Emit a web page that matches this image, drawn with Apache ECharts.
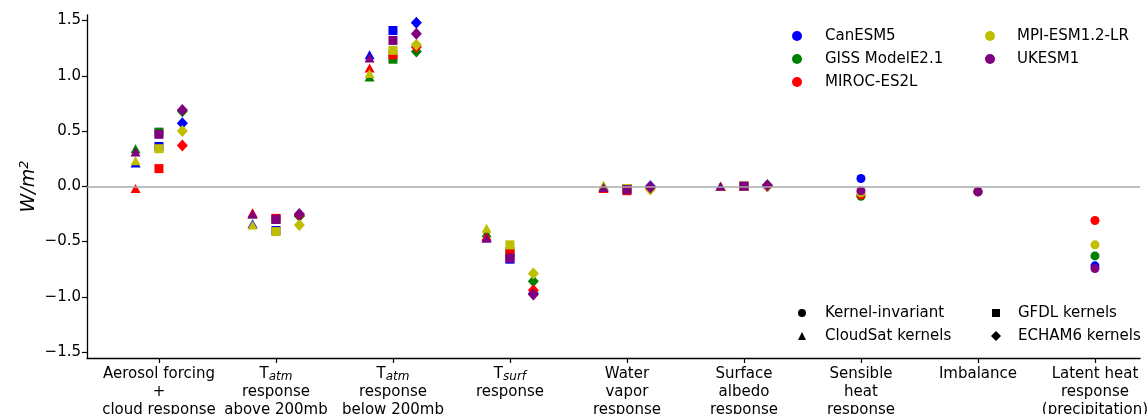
<!DOCTYPE html>
<html>
<head>
<meta charset="utf-8">
<script src="https://cdn.jsdelivr.net/npm/echarts@6/dist/echarts.min.js"></script>
<style>
  html, body { margin: 0; padding: 0; background: #fff; }
  #chart { width: 1148px; height: 414px; }
</style>
</head>
<body>
<div id="chart"></div>
<script>
// category labels ({t|..} normal text, {s|..} italic subscript)
const categories = [
    '{t|Aerosol forcing}\n{t|+}\n{t|cloud response}',
    '{t|T}{s|atm}\n{t|response}\n{t|above 200mb}',
    '{t|T}{s|atm}\n{t|response}\n{t|below 200mb}',
    '{t|T}{s|surf}\n{t|response}',
    '{t|Water}\n{t|vapor}\n{t|response}',
    '{t|Surface}\n{t|albedo}\n{t|response}',
    '{t|Sensible}\n{t|heat}\n{t|response}',
    '{t|Imbalance}',
    '{t|Latent heat}\n{t|response}\n{t|(precipitation)}'
]
const yTicks = [-1.5, -1.0, -0.5, 0.0, 0.5, 1.0, 1.5]

const models = ['CanESM5', 'GISS ModelE2.1', 'MIROC-ES2L', 'MPI-ESM1.2-LR', 'UKESM1']
const modelColors = ['#0000ff', '#008000', '#ff0000', '#bfbf00', '#800080']

// kernel dependent terms, rows = models, cols = first 6 categories
const cloudSat = [
    [0.21, -0.34, 1.19, -0.46, 0.00, 0.00],
    [0.34, -0.25, 0.99, -0.42, 0.00, 0.00],
    [-0.02, -0.24, 1.07, -0.45, -0.02, 0.00],
    [0.23, -0.35, 1.02, -0.38, 0.01, 0.00],
    [0.31, -0.25, 1.16, -0.47, -0.01, 0.00]
]
const gfdl = [
    [0.36, -0.40, 1.41, -0.66, -0.02, 0.00],
    [0.49, -0.30, 1.15, -0.59, -0.02, 0.00],
    [0.16, -0.29, 1.19, -0.61, -0.04, 0.00],
    [0.34, -0.41, 1.23, -0.53, -0.02, 0.00],
    [0.47, -0.30, 1.32, -0.65, -0.03, 0.00]
]
const echam6 = [
    [0.57, -0.27, 1.48, -0.97, 0.00, 0.00],
    [0.68, -0.27, 1.22, -0.86, -0.01, 0.01],
    [0.37, -0.26, 1.26, -0.94, -0.01, 0.00],
    [0.50, -0.35, 1.28, -0.79, -0.03, 0.00],
    [0.69, -0.25, 1.38, -0.98, -0.01, 0.01]
]
// kernel invariant terms (sensible heat, imbalance, latent heat)
const invariant = [
    [0.07, -0.05, -0.72],
    [-0.09, -0.05, -0.63],
    [-0.08, -0.05, -0.31],
    [-0.06, -0.05, -0.53],
    [-0.04, -0.05, -0.745]
]
const invariantStart = 6

const FONT = 'DejaVu Sans'
const chart = echarts.init(document.getElementById('chart'))

const kernelSeries = (name, symbol, size, offset, values) => {
    const data = []
    values.forEach((row, m) => {
        row.forEach((v, c) => {
            data.push({ value: [c + offset, v], itemStyle: { color: modelColors[m] } })
        })
    })
    return {
        name: name,
        type: 'scatter',
        symbol: symbol,
        symbolSize: size,
        itemStyle: { color: '#000', opacity: 1 },
        z: 3,
        data: data
    }
}

const series = [{
    name: 'Kernel-invariant',
    type: 'scatter',
    symbol: 'circle',
    itemStyle: { color: '#000', opacity: 1 },
    z: 1,
    data: [],
    markLine: {
        silent: true,
        symbol: 'none',
        label: { show: false },
        lineStyle: { color: '#aaaaaa', width: 1.5, type: 'solid' },
        data: [{ yAxis: 0 }]
    }
}]
series.push(kernelSeries('CloudSat kernels', 'triangle', [10, 9], -0.2, cloudSat))
series.push(kernelSeries('GFDL kernels', 'rect', 9, 0, gfdl))
series.push(kernelSeries('ECHAM6 kernels', 'diamond', [11, 12], 0.2, echam6))
models.forEach((m, i) => {
    series.push({
        name: m,
        type: 'scatter',
        symbol: 'circle',
        symbolSize: 9,
        itemStyle: { color: modelColors[i], opacity: 1 },
        z: 3,
        data: invariant[i].map((v, j) => [invariantStart + j, v])
    })
})

const legendText = { fontFamily: FONT, fontSize: 15, color: '#000', lineHeight: 18 }
const makeLegend = (left, top, size, pad, data) => ({
    orient: 'vertical',
    selectedMode: false,
    padding: 0,
    itemGap: 5,
    left: left,
    top: top,
    itemWidth: size,
    itemHeight: size,
    textStyle: Object.assign({}, legendText, { padding: [0, 0, 0, pad] }),
    data: data
})

chart.setOption({
    animation: false,
    grid: { left: 87, right: 8, top: 15, bottom: 56, containLabel: false, outerBoundsMode: 'none' },
    legend: [
        makeLegend(792, 27, 10, 18, models.slice(0, 3).map(n => ({ name: n, icon: 'circle' }))),
        makeLegend(985, 27, 10, 17, models.slice(3).map(n => ({ name: n, icon: 'circle' }))),
        makeLegend(798, 304, 8, 14, [{ name: 'Kernel-invariant', icon: 'circle' }, { name: 'CloudSat kernels', icon: 'triangle' }]),
        makeLegend(992, 304, 8, 13, [{ name: 'GFDL kernels', icon: 'rect' }]),
        makeLegend(991, 327, 10, 12, [{ name: 'ECHAM6 kernels', icon: 'diamond' }])
    ],
    xAxis: {
        type: 'value',
        min: -0.615,
        max: 8.385,
        splitLine: { show: false },
        axisLine: { show: true, onZero: false, lineStyle: { color: '#000', width: 1.3 } },
        axisTick: { show: true, length: 5, lineStyle: { color: '#000', width: 1.2 }, customValues: categories.map((c, i) => i) },
        axisLabel: {
            margin: 7,
            customValues: categories.map((c, i) => i),
            formatter: v => categories[Math.round(v)],
            rich: {
                t: { fontFamily: FONT, fontSize: 15, color: '#000', lineHeight: 18 },
                s: { fontFamily: FONT, fontSize: 12, fontStyle: 'italic', color: '#000', lineHeight: 18, padding: [5, 0, 0, 0] }
            }
        }
    },
    yAxis: {
        type: 'value',
        min: -1.554,
        max: 1.55,
        splitLine: { show: false },
        axisLine: { show: true, onZero: false, lineStyle: { color: '#000', width: 1.3 } },
        axisTick: { show: true, length: 5, lineStyle: { color: '#000', width: 1.2 }, customValues: yTicks },
        axisLabel: {
            margin: 6,
            customValues: yTicks,
            fontFamily: FONT,
            fontSize: 15,
            color: '#000',
            formatter: v => (v < 0 ? '\u2212' : '') + Math.abs(v).toFixed(1)
        },
        name: '{i|W/m}{p|2}',
        nameLocation: 'middle',
        nameGap: 46,
        nameMoveOverlap: false,
        nameTextStyle: {
            rich: {
                i: { fontFamily: FONT, fontSize: 19, fontStyle: 'italic', color: '#000' },
                p: { fontFamily: FONT, fontSize: 13, fontStyle: 'italic', color: '#000', padding: [0, 0, 10, 0] }
            }
        }
    },
    series: series
})
</script>
</body>
</html>
